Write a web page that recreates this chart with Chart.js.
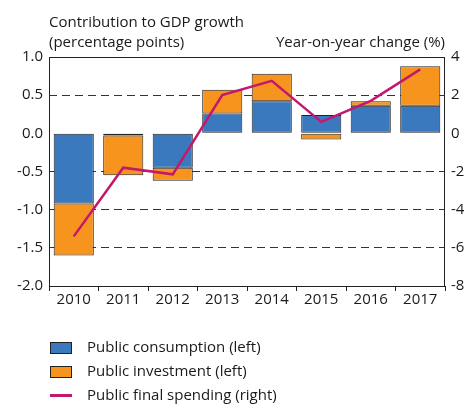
<!DOCTYPE html>
<html>
<head>
<meta charset="utf-8">
<script src="https://cdn.jsdelivr.net/npm/chart.js@4"></script>
<style>
  body { margin: 0; background: #fff; font-family: "Open Sans", sans-serif; color: #1a1a1a; }
  #wrap { position: relative; width: 470px; height: 405px; overflow: hidden; }
  canvas { position: absolute; left: 0; top: 0; }
  .t { position: absolute; font-size: 15px; white-space: nowrap; }
  .lg { position: absolute; left: 50px; font-size: 15px; white-space: nowrap; }
  .sw { display: inline-block; width: 20px; height: 10px; border: 1px solid #222; vertical-align: middle; margin-right: 15px; }
  .ln { display: inline-block; width: 22px; height: 3px; background: #c2186f; vertical-align: middle; margin-right: 15px; }
</style>
</head>
<body>
<div id="wrap">
  <canvas id="myChart" width="470" height="405"></canvas>
  <div class="t" style="left:49px; top:11px;">Contribution to GDP growth</div>
  <div class="t" style="left:49px; top:31px;">(percentage points)</div>
  <div class="t" style="right:25px; top:31px;">Year-on-year change (%)</div>
  <div class="lg" style="top:336px;"><span class="sw" style="background:#3b79be"></span>Public consumption (left)</div>
  <div class="lg" style="top:360px;"><span class="sw" style="background:#f7941d"></span>Public investment (left)</div>
  <div class="lg" style="top:384px;"><span class="ln"></span>Public final spending (right)</div>
</div>
<script>
'use strict';

// years on the x axis
var years = ['2010', '2011', '2012', '2013', '2014', '2015', '2016', '2017'];
// contributions to GDP growth, percentage points (left axis)
var consumption = [-0.92, -0.03, -0.45, 0.26, 0.42, 0.24, 0.36, 0.36];
var investment = [-0.68, -0.52, -0.17, 0.31, 0.36, -0.08, 0.06, 0.52];
// public final spending, year-on-year % (right axis)
var spending = [-5.4, -1.8, -2.15, 2.0, 2.75, 0.6, 1.7, 3.35];

var leftTicks = [1.0, 0.5, 0.0, -0.5, -1.0, -1.5, -2.0];
var rightTicks = [4, 2, 0, -2, -4, -6, -8];

// draws the box round the plot area
var frame = {
   id: 'frame',
   afterDatasetsDraw: function (chart) {
      var a = chart.chartArea, c = chart.ctx;
      c.save();
      c.strokeStyle = '#222';
      c.lineWidth = 1;
      c.strokeRect(Math.round(a.left) + 0.5, Math.round(a.top) + 0.5,
         Math.round(a.right - a.left) - 1, Math.round(a.bottom - a.top));
      c.restore();
   }
};

var tickFont = { family: 'Open Sans', size: 15 };

new Chart(document.getElementById('myChart'), {
   type: 'bar',
   data: {
      labels: years,
      datasets: [{
         type: 'line',
         data: spending,
         yAxisID: 'y1',
         borderColor: '#c2186f',
         borderWidth: 2.5,
         pointRadius: 0,
         tension: 0,
         order: 0
      }, {
         data: consumption,
         yAxisID: 'y',
         backgroundColor: '#3b79be',
         borderColor: '#222',
         borderWidth: 1,
         borderSkipped: false,
         stack: 's',
         order: 1,
         categoryPercentage: 0.81,
         barPercentage: 1
      }, {
         data: investment,
         yAxisID: 'y',
         backgroundColor: '#f7941d',
         borderColor: '#222',
         borderWidth: 1,
         borderSkipped: false,
         stack: 's',
         order: 1,
         categoryPercentage: 0.81,
         barPercentage: 1
      }]
   },
   options: {
      responsive: false,
      animation: false,
      events: [],
      layout: { padding: { top: 57, bottom: 99, left: 0, right: 0 } },
      plugins: { legend: { display: false }, tooltip: { enabled: false } },
      scales: {
         x: {
            stacked: true,
            offset: true,
            grid: { offset: true, drawOnChartArea: false, drawTicks: true, tickLength: 5, color: '#222' },
            border: { display: false },
            ticks: { color: '#1a1a1a', font: tickFont, padding: 0, maxRotation: 0 },
            afterFit: function (s) { s.height = 20; }
         },
         y: {
            position: 'left',
            stacked: true,
            min: -2, max: 1,
            afterBuildTicks: function (s) { s.ticks = leftTicks.map(function (v) { return { value: v }; }); },
            ticks: {
               color: '#1a1a1a', font: tickFont, padding: 6,
               callback: function (v) { return v.toFixed(1); }
            },
            grid: {
               drawTicks: false,
               color: function (ctx) {
                  var v = ctx.tick && ctx.tick.value;
                  return (v === 1 || v === 0 || v === -2) ? 'rgba(0,0,0,0)' : '#333';
               }
            },
            border: { display: false, dash: [8, 5] },
            afterFit: function (s) { s.width = 49; }
         },
         y1: {
            position: 'right',
            min: -8, max: 4,
            afterBuildTicks: function (s) { s.ticks = rightTicks.map(function (v) { return { value: v }; }); },
            ticks: { color: '#1a1a1a', font: tickFont, padding: 6 },
            grid: { drawOnChartArea: false, drawTicks: false },
            border: { display: false },
            afterFit: function (s) { s.width = 25; }
         }
      }
   },
   plugins: [frame]
});
</script>
</body>
</html>
